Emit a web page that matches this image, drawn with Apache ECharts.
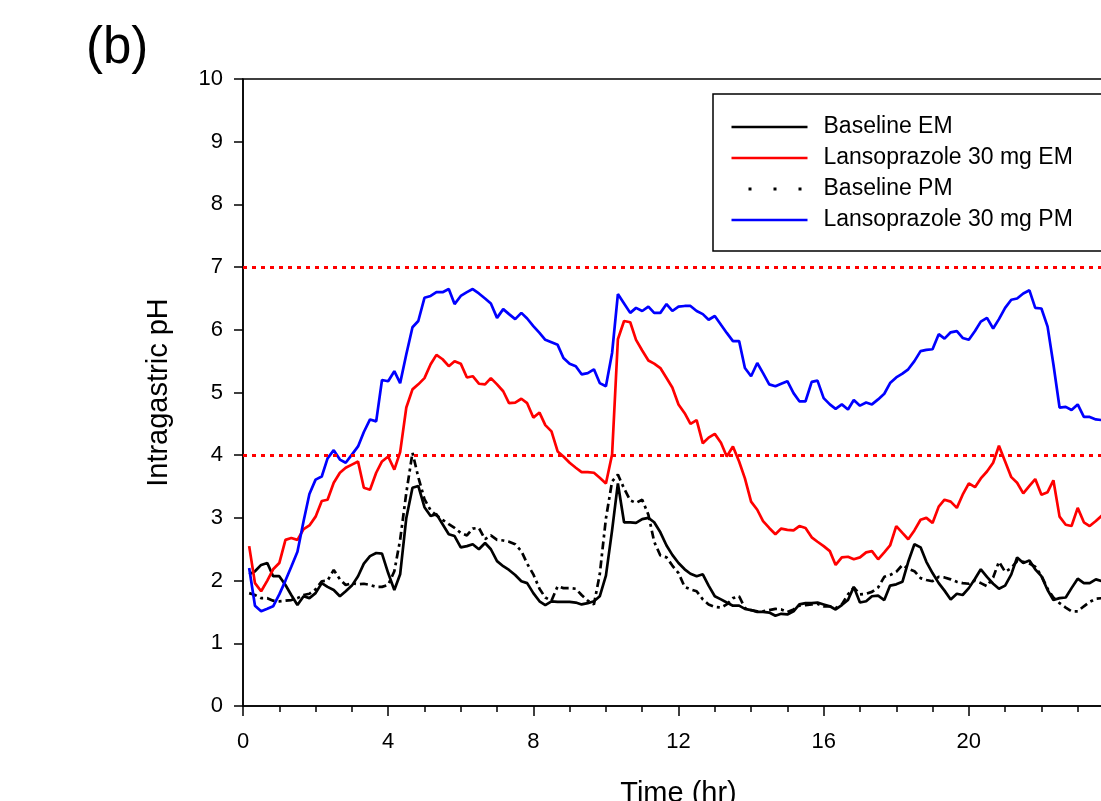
<!DOCTYPE html>
<html>
<head>
<meta charset="utf-8">
<script src="https://cdn.jsdelivr.net/npm/echarts@6/dist/echarts.min.js"></script>
<style>
html,body{margin:0;padding:0;background:#fff;}
#chart{width:1101px;height:801px;}
</style>
</head>
<body>
<div id="chart"></div>
<script>
var times = [0.17,0.33,0.5,0.67,0.83,1,1.17,1.33,1.5,1.67,1.83,2,2.17,2.33,2.5,2.67,2.83,3,3.17,3.33,3.5,3.67,3.83,4,4.17,4.33,4.5,4.67,4.83,5,5.17,5.33,5.5,5.67,5.83,6,6.17,6.33,6.5,6.67,6.83,7,7.17,7.33,7.5,7.67,7.83,8,8.17,8.33,8.5,8.67,8.83,9,9.17,9.33,9.5,9.67,9.83,10,10.17,10.33,10.5,10.67,10.83,11,11.17,11.33,11.5,11.67,11.83,12,12.17,12.33,12.5,12.67,12.83,13,13.17,13.33,13.5,13.67,13.83,14,14.17,14.33,14.5,14.67,14.83,15,15.17,15.33,15.5,15.67,15.83,16,16.17,16.33,16.5,16.67,16.83,17,17.17,17.33,17.5,17.67,17.83,18,18.17,18.33,18.5,18.67,18.83,19,19.17,19.33,19.5,19.67,19.83,20,20.17,20.33,20.5,20.67,20.83,21,21.17,21.33,21.5,21.67,21.83,22,22.17,22.33,22.5,22.67,22.83,23,23.17,23.33,23.5,23.67,23.83,24];

var baselineEM = [2.1,2.15,2.25,2.28,2.07,2.07,1.93,1.77,1.61,1.75,1.72,1.8,1.96,1.9,1.85,1.75,1.83,1.92,2.07,2.27,2.39,2.44,2.43,2.12,1.85,2.1,3.0,3.48,3.51,3.17,3.03,3.06,2.9,2.74,2.71,2.53,2.55,2.58,2.5,2.6,2.5,2.31,2.23,2.17,2.09,1.99,1.96,1.8,1.67,1.61,1.67,1.66,1.66,1.66,1.65,1.62,1.64,1.67,1.75,2.08,2.8,3.55,2.93,2.93,2.92,2.98,3.0,2.93,2.77,2.56,2.41,2.28,2.18,2.11,2.07,2.1,1.92,1.75,1.7,1.65,1.6,1.6,1.55,1.53,1.5,1.5,1.49,1.44,1.47,1.46,1.51,1.62,1.64,1.64,1.65,1.62,1.59,1.54,1.61,1.69,1.9,1.65,1.67,1.75,1.76,1.69,1.92,1.94,1.98,2.3,2.58,2.53,2.3,2.12,1.96,1.84,1.7,1.79,1.77,1.88,2.03,2.18,2.06,1.95,1.87,1.92,2.1,2.37,2.28,2.32,2.18,2.07,1.85,1.69,1.72,1.73,1.88,2.03,1.96,1.96,2.02,1.99,1.97,1.98];

var lansoEM = [2.55,1.96,1.83,2.0,2.18,2.28,2.65,2.68,2.65,2.82,2.88,3.02,3.27,3.29,3.56,3.72,3.8,3.85,3.9,3.48,3.45,3.72,3.9,3.98,3.77,4.05,4.76,5.05,5.13,5.23,5.45,5.6,5.53,5.42,5.5,5.46,5.24,5.26,5.14,5.13,5.23,5.13,5.02,4.83,4.84,4.9,4.83,4.6,4.68,4.48,4.38,4.06,3.98,3.88,3.8,3.73,3.73,3.72,3.64,3.55,4.01,5.85,6.14,6.12,5.84,5.67,5.51,5.46,5.39,5.23,5.08,4.81,4.67,4.5,4.56,4.19,4.28,4.34,4.2,3.98,4.14,3.9,3.63,3.26,3.13,2.95,2.84,2.74,2.83,2.81,2.8,2.87,2.84,2.69,2.62,2.55,2.47,2.25,2.37,2.38,2.34,2.37,2.45,2.47,2.34,2.45,2.56,2.87,2.76,2.66,2.8,2.97,3.0,2.92,3.18,3.29,3.26,3.16,3.37,3.55,3.49,3.63,3.74,3.88,4.15,3.9,3.65,3.56,3.39,3.51,3.62,3.37,3.41,3.6,3.02,2.89,2.87,3.16,2.93,2.87,2.95,3.04,3.1,3.15];

var baselinePM = [1.8,1.77,1.72,1.72,1.68,1.67,1.68,1.69,1.72,1.77,1.79,1.86,1.99,2.0,2.17,2.02,1.93,1.96,1.94,1.95,1.93,1.9,1.9,1.93,2.15,2.65,3.4,4.04,3.65,3.3,3.12,3.04,2.97,2.9,2.84,2.76,2.72,2.83,2.84,2.66,2.72,2.65,2.64,2.62,2.58,2.47,2.27,2.1,1.87,1.73,1.68,1.91,1.88,1.88,1.87,1.77,1.68,1.62,2.1,2.99,3.58,3.69,3.47,3.28,3.24,3.29,3.05,2.62,2.4,2.37,2.24,2.12,1.9,1.86,1.83,1.7,1.62,1.58,1.57,1.62,1.72,1.75,1.56,1.53,1.51,1.51,1.53,1.55,1.54,1.5,1.54,1.6,1.61,1.62,1.63,1.59,1.59,1.56,1.62,1.78,1.89,1.78,1.79,1.82,1.89,2.06,2.09,2.14,2.25,2.19,2.15,2.04,2.01,1.99,2.06,2.05,2.02,1.98,1.96,1.95,2.0,1.96,1.91,2.05,2.3,2.14,2.2,2.31,2.3,2.27,2.22,2.08,1.87,1.73,1.64,1.57,1.51,1.51,1.59,1.66,1.71,1.72,1.74,1.76];

var lansoPM = [2.2,1.6,1.51,1.55,1.59,1.78,2.0,2.22,2.46,2.95,3.38,3.61,3.66,3.95,4.08,3.93,3.88,4.01,4.14,4.37,4.57,4.54,5.2,5.18,5.34,5.15,5.61,6.04,6.14,6.51,6.54,6.6,6.6,6.65,6.41,6.54,6.6,6.65,6.58,6.5,6.42,6.19,6.33,6.25,6.17,6.27,6.18,6.06,5.95,5.84,5.8,5.76,5.55,5.46,5.42,5.29,5.31,5.37,5.15,5.1,5.63,6.57,6.42,6.27,6.35,6.3,6.37,6.27,6.27,6.41,6.3,6.37,6.38,6.38,6.3,6.25,6.16,6.22,6.08,5.95,5.82,5.82,5.39,5.26,5.47,5.31,5.13,5.1,5.14,5.18,4.99,4.86,4.86,5.17,5.19,4.91,4.81,4.74,4.81,4.73,4.88,4.79,4.84,4.81,4.89,4.98,5.15,5.24,5.3,5.37,5.5,5.66,5.68,5.69,5.93,5.86,5.96,5.98,5.87,5.84,5.98,6.13,6.19,6.02,6.17,6.35,6.48,6.5,6.58,6.63,6.35,6.34,6.05,5.45,4.76,4.77,4.72,4.81,4.61,4.61,4.57,4.56,4.55,4.54];

var refLines = [4, 7];
var seriesNames = ['Baseline EM', 'Lansoprazole 30 mg EM', 'Baseline PM', 'Lansoprazole 30 mg PM'];

function pairs(vals) {
  return vals.map(function (v, i) { return [times[i], v]; });
}

var FONT = '"Liberation Sans", Arial, sans-serif';
var LW = 2.7;
var chart = echarts.init(document.getElementById('chart'), null, {renderer: 'canvas'});

var option = {
  backgroundColor: '#fff',
  animation: false,
  title: {
    text: '(b)', left: 81, top: 18,
    textStyle: {fontFamily: FONT, fontSize: 51, fontWeight: 'normal', color: '#000'}
  },
  grid: {
    left: 243, top: 79, right: -13, bottom: 95,
    outerBoundsMode: 'none', containLabel: false,
    show: true, borderColor: '#000', borderWidth: 1.5, backgroundColor: 'transparent'
  },
  legend: {
    orient: 'vertical', left: 713, top: 94,
    padding: [21, 40, 19, 17],
    borderColor: '#000', borderWidth: 1.5, borderRadius: 0,
    itemWidth: 76, itemHeight: 14, itemGap: 7,
    itemStyle: {opacity: 0},
    lineStyle: {width: LW},
    textStyle: {fontFamily: FONT, fontSize: 23, lineHeight: 24, color: '#000', padding: [0, 0, 0, 11]},
    data: [
      {name: seriesNames[0], lineStyle: {width: LW, type: 'solid'}},
      {name: seriesNames[1], lineStyle: {width: LW, type: 'solid'}},
      {name: seriesNames[2], lineStyle: {type: [3, 22], dashOffset: 8, width: 3}},
      {name: seriesNames[3], lineStyle: {width: LW, type: 'solid'}}
    ]
  },
  xAxis: {
    type: 'value', min: 0, max: 24, interval: 4,
    name: 'Time (hr)', nameLocation: 'middle', nameGap: 73,
    nameTextStyle: {fontFamily: FONT, fontSize: 29, color: '#000'},
    axisLine: {show: true, onZero: false, lineStyle: {color: '#000', width: 1.5}},
    axisTick: {show: true, length: 10, lineStyle: {color: '#000', width: 1.5}},
    minorTick: {show: true, splitNumber: 4, length: 6, lineStyle: {color: '#000', width: 1.5}},
    axisLabel: {fontFamily: FONT, fontSize: 22, color: '#000', margin: 25},
    splitLine: {show: false}
  },
  yAxis: {
    type: 'value', min: 0, max: 10, interval: 1,
    name: 'Intragastric pH', nameLocation: 'middle', nameGap: 70, nameRotate: 90,
    nameTextStyle: {fontFamily: FONT, fontSize: 29, color: '#000'},
    axisLine: {show: true, onZero: false, lineStyle: {color: '#000', width: 1.5}},
    axisTick: {show: true, length: 9, lineStyle: {color: '#000', width: 1.5}},
    axisLabel: {fontFamily: FONT, fontSize: 22, color: '#000', margin: 20},
    splitLine: {show: false}
  },
  series: [
    {
      name: seriesNames[0], type: 'line', data: pairs(baselineEM),
      symbol: 'none', color: '#000',
      lineStyle: {color: '#000', width: LW},
      z: 3
    },
    {
      name: seriesNames[1], type: 'line', data: pairs(lansoEM),
      symbol: 'none', color: '#ff0000',
      lineStyle: {color: '#ff0000', width: LW},
      z: 3,
      markLine: {
        silent: true, symbol: ['none', 'none'], label: {show: false},
        lineStyle: {color: '#ff0000', type: [4, 5], width: 3},
        data: refLines.map(function (v) { return {yAxis: v}; })
      }
    },
    {
      name: seriesNames[2], type: 'line', data: pairs(baselinePM),
      symbol: 'none', color: '#000',
      lineStyle: {color: '#000', width: LW, type: [8, 4, 3, 4]},
      z: 3
    },
    {
      name: seriesNames[3], type: 'line', data: pairs(lansoPM),
      symbol: 'none', color: '#0000ff',
      lineStyle: {color: '#0000ff', width: LW},
      z: 3
    }
  ]
};
chart.setOption(option);
</script>
</body>
</html>
